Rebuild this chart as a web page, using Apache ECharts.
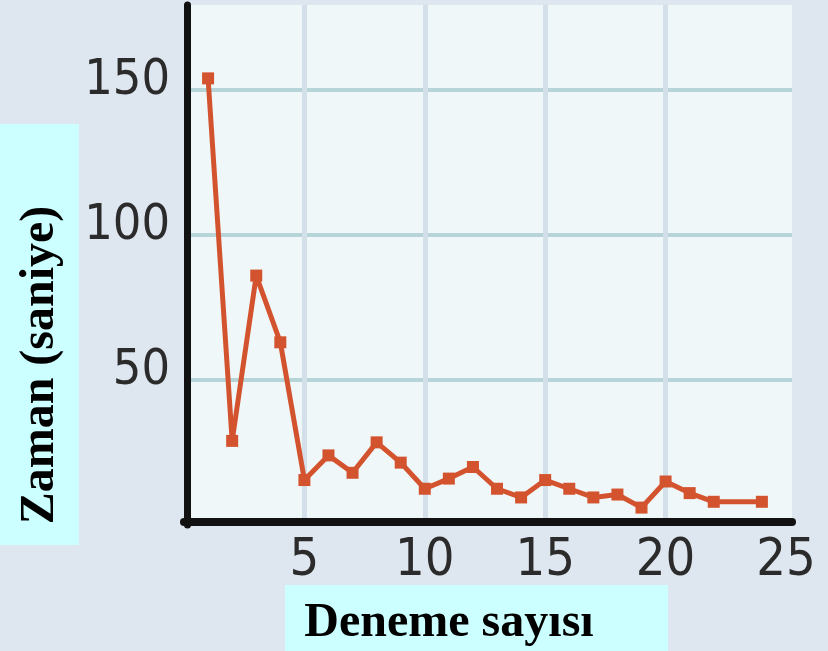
<!DOCTYPE html>
<html>
<head>
<meta charset="utf-8">
<script src="https://cdn.jsdelivr.net/npm/echarts@6/dist/echarts.min.js"></script>
<style>
  html, body { margin: 0; padding: 0; background: #dee6ef; }
  #chart { width: 828px; height: 651px; }
</style>
</head>
<body>
<div id="chart"></div>
<script>
// trial numbers (no marker drawn at 23 in the source, line runs flat 22 -> 24)
const trials = [1, 2, 3, 4, 5, 6, 7, 8, 9, 10, 11, 12, 13, 14, 15, 16, 17, 18, 19, 20, 21, 22, 24];
// time in seconds
const times = [154, 29, 86, 63, 15.5, 24, 18, 28.5, 21.5, 12.5, 16, 20, 12.5, 9.5, 15.5, 12.5, 9.5, 10.5, 6, 15, 11, 8, 8];
const xTicks = [5, 10, 15, 20, 25];
const yTicks = [50, 100, 150];

const tickFont = '"Liberation Sans Narrow", "DejaVu Sans Condensed", "Liberation Sans", sans-serif';
const titleFont = '"Liberation Serif", "Times New Roman", serif';

const chart = echarts.init(document.getElementById('chart'));

const points = trials.map((t, i) => [t, times[i]]);

chart.setOption({
  backgroundColor: '#dee6ef',
  animation: false,
  grid: {
    left: 184,
    right: 36,
    top: 5,
    bottom: 126,
    show: true,
    backgroundColor: '#eff7f8',
    borderWidth: 0
  },
  xAxis: {
    type: 'value',
    min: 0,
    max: 25.25,
    interval: 5,
    offset: -3,
    axisLine: { lineStyle: { color: '#111', width: 8 } },
    axisTick: { show: false },
    axisLabel: {
      margin: 13,
      color: '#2b2b2b',
      fontFamily: tickFont,
      fontSize: 52,
      formatter: v => (xTicks.indexOf(v) >= 0 ? String(v) : '')
    },
    splitLine: {
      show: true,
      lineStyle: {
        width: 5,
        color: ['transparent', '#d3e0ea', '#d3e0ea', '#d3e0ea', '#d3e0ea', 'transparent', 'transparent']
      }
    }
  },
  yAxis: {
    type: 'value',
    min: 0,
    max: 179.3,
    interval: 50,
    offset: -3,
    axisLine: { show: true, lineStyle: { color: '#111', width: 7 } },
    axisTick: { show: false },
    axisLabel: {
      margin: 17,
      color: '#2b2b2b',
      fontFamily: tickFont,
      fontSize: 50,
      verticalAlign: 'bottom',
      lineHeight: 18,
      formatter: v => (yTicks.indexOf(v) >= 0 ? String(v) : '')
    },
    splitLine: {
      show: true,
      lineStyle: {
        width: 4,
        color: ['transparent', '#b7d4d9', '#b7d4d9', '#b7d4d9', 'transparent']
      }
    }
  },
  series: [{
    type: 'line',
    data: points,
    symbol: 'rect',
    symbolSize: 12,
    lineStyle: { color: '#d4532f', width: 5 },
    itemStyle: { color: '#d4532f' }
  }],
  graphic: [
    {
      type: 'rect',
      left: 0,
      top: 124,
      shape: { width: 79, height: 421 },
      style: { fill: '#ccffff' }
    },
    {
      type: 'text',
      x: 41,
      y: 365,
      rotation: Math.PI / 2,
      style: {
        text: 'Zaman (saniye)',
        font: 'bold 48px ' + titleFont,
        fill: '#000',
        align: 'center',
        verticalAlign: 'middle'
      }
    },
    {
      type: 'rect',
      left: 285,
      top: 585,
      shape: { width: 383, height: 66 },
      style: { fill: '#ccffff' }
    },
    {
      type: 'text',
      x: 449,
      y: 624,
      style: {
        text: 'Deneme sayısı',
        font: 'bold 48px ' + titleFont,
        fill: '#000',
        align: 'center',
        verticalAlign: 'middle'
      }
    }
  ]
});
</script>
</body>
</html>
